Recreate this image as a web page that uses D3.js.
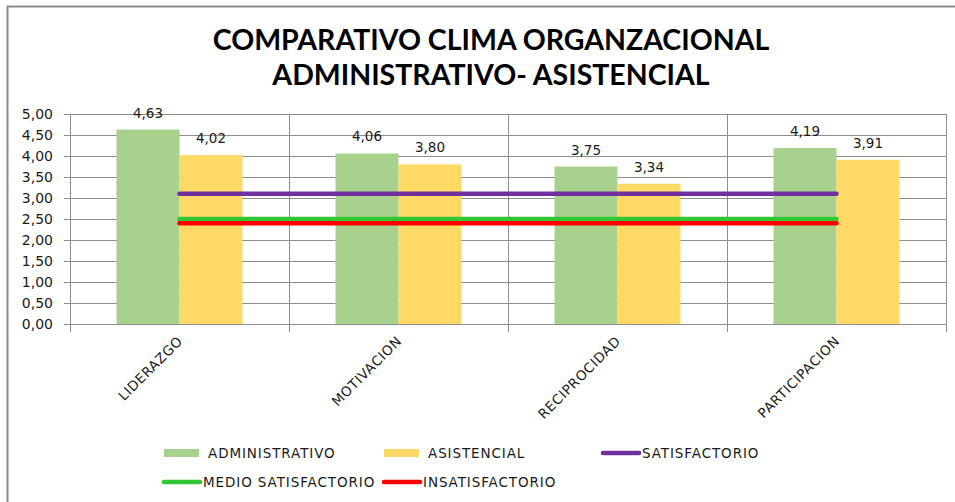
<!DOCTYPE html>
<meta charset="utf-8">
<script src="https://d3js.org/d3.v7.min.js"></script>
<style>
    body { margin: 0; padding: 0; background: #fff; }
    svg { display: block; }
    text { font-family: 'DejaVu Sans', Verdana, sans-serif; fill: #1a1a1a; }
</style>
<body>
<svg width="955" height="502"></svg>
<script>
    // datos del grafico
    var categorias = ["LIDERAZGO", "MOTIVACION", "RECIPROCIDAD", "PARTICIPACION"];
    var administrativo = [4.63, 4.06, 3.75, 4.19];
    var asistencial = [4.02, 3.80, 3.34, 3.91];
    var satisfactorio = [3.1, 3.1, 3.1, 3.1];
    var medioSatisfactorio = [2.5, 2.5, 2.5, 2.5];
    var insatisfactorio = [2.4, 2.4, 2.4, 2.4];
    var ticksY = [0, 0.5, 1, 1.5, 2, 2.5, 3, 3.5, 4, 4.5, 5];

    var series = [
        { name: "ADMINISTRATIVO", values: administrativo, color: "#a9d18e" },
        { name: "ASISTENCIAL", values: asistencial, color: "#ffd966" }
    ];
    var lineas = [
        { name: "SATISFACTORIO", values: satisfactorio, color: "#7030a0" },
        { name: "MEDIO SATISFACTORIO", values: medioSatisfactorio, color: "#33c633" },
        { name: "INSATISFACTORIO", values: insatisfactorio, color: "#ff0000" }
    ];

    var svg = d3.select("svg");
    var fmt = function (v) { return d3.format(".2f")(v).replace(".", ","); };

    // marco exterior
    svg.append("path")
        .attr("d", "M7.5,502 V6.5 H955")
        .attr("fill", "none")
        .attr("stroke", "#8c8c8c")
        .attr("stroke-width", 2);

    // titulo
    var titulo = svg.append("text")
        .attr("text-anchor", "middle")
        .style("font-family", "Lato, 'Open Sans', sans-serif")
        .style("font-weight", "bold")
        .style("font-size", "28.5px")
        .style("fill", "#000");
    titulo.append("tspan").attr("x", 491).attr("y", 50).text("COMPARATIVO CLIMA ORGANZACIONAL");
    titulo.append("tspan").attr("x", 491).attr("y", 85).text("ADMINISTRATIVO- ASISTENCIAL");

    var plotLeft = 70, plotRight = 946, plotTop = 114, plotBottom = 324;

    var x0 = d3.scaleBand().domain(categorias).range([plotLeft, plotRight]).padding(0);
    var barW = 63;
    var x1 = d3.scaleBand().domain(series.map(function (s) { return s.name; }))
        .range([0, x0.bandwidth()])
        .paddingInner(0)
        .paddingOuter((x0.bandwidth() / 2 - barW) / barW);
    var y = d3.scaleLinear().domain([0, 5]).range([plotBottom, plotTop]);

    // lineas de cuadricula horizontales
    svg.append("g")
        .selectAll("line")
        .data(ticksY)
        .join("line")
        .attr("x1", plotLeft - 6).attr("x2", plotRight)
        .attr("y1", function (d) { return y(d); })
        .attr("y2", function (d) { return y(d); })
        .attr("stroke", "#8e8e8e")
        .attr("stroke-width", 1)
        .attr("shape-rendering", "crispEdges");

    // separadores verticales de categorias
    var bordes = categorias.map(function (c) { return x0(c); }).concat([plotRight]);
    svg.append("g")
        .selectAll("line")
        .data(bordes)
        .join("line")
        .attr("x1", function (d) { return d; })
        .attr("x2", function (d) { return d; })
        .attr("y1", plotTop).attr("y2", plotBottom + 8)
        .attr("stroke", "#8e8e8e")
        .attr("stroke-width", 1)
        .attr("shape-rendering", "crispEdges");

    // etiquetas eje y
    svg.append("g")
        .selectAll("text")
        .data(ticksY)
        .join("text")
        .attr("x", 53)
        .attr("y", function (d) { return y(d) + 5; })
        .attr("text-anchor", "end")
        .style("font-size", "14px")
        .text(fmt);

    // barras
    var grupos = svg.append("g")
        .selectAll("g")
        .data(categorias)
        .join("g")
        .attr("transform", function (c) { return "translate(" + x0(c) + ",0)"; });

    grupos.selectAll("rect")
        .data(function (c, i) { return series.map(function (s) { return { s: s, v: s.values[i] }; }); })
        .join("rect")
        .attr("x", function (d) { return x1(d.s.name); })
        .attr("width", x1.bandwidth())
        .attr("y", function (d) { return y(d.v); })
        .attr("height", function (d) { return plotBottom - y(d.v); })
        .attr("fill", function (d) { return d.s.color; });

    grupos.selectAll("text")
        .data(function (c, i) { return series.map(function (s) { return { s: s, v: s.values[i] }; }); })
        .join("text")
        .attr("x", function (d) { return x1(d.s.name) + x1.bandwidth() / 2; })
        .attr("y", function (d) { return y(d.v) - 12; })
        .attr("text-anchor", "middle")
        .style("font-size", "13.5px")
        .text(function (d) { return fmt(d.v); });

    // eje x base
    svg.append("line")
        .attr("x1", plotLeft).attr("x2", plotRight)
        .attr("y1", plotBottom).attr("y2", plotBottom)
        .attr("stroke", "#8e8e8e")
        .attr("shape-rendering", "crispEdges");

    // lineas de referencia
    var linea = d3.line()
        .x(function (d, i) { return x0(categorias[i]) + x0.bandwidth() / 2; })
        .y(function (d) { return y(d); });
    svg.append("g")
        .selectAll("path")
        .data(lineas)
        .join("path")
        .attr("d", function (l) { return linea(l.values); })
        .attr("fill", "none")
        .attr("stroke", function (l) { return l.color; })
        .attr("stroke-width", 4.5)
        .attr("stroke-linecap", "round");

    // etiquetas categorias rotadas
    svg.append("g")
        .selectAll("text")
        .data(categorias)
        .join("text")
        .attr("transform", function (c) {
            return "translate(" + (x0(c) + x0.bandwidth() / 2 + 4) + "," + (plotBottom + 18) + ") rotate(-45)";
        })
        .attr("text-anchor", "end")
        .style("font-size", "13.5px")
        .style("letter-spacing", "0.6px")
        .text(function (c) { return c; });

    // leyenda
    var leyenda = [
        { name: "ADMINISTRATIVO", tipo: "rect", color: "#a9d18e", x: 164, y: 453 },
        { name: "ASISTENCIAL", tipo: "rect", color: "#ffd966", x: 384, y: 453 },
        { name: "SATISFACTORIO", tipo: "line", color: "#7030a0", x: 602, y: 453 },
        { name: "MEDIO SATISFACTORIO", tipo: "line", color: "#33c633", x: 163, y: 482 },
        { name: "INSATISFACTORIO", tipo: "line", color: "#ff0000", x: 383, y: 482 }
    ];
    var items = svg.append("g")
        .selectAll("g")
        .data(leyenda)
        .join("g")
        .attr("transform", function (d) { return "translate(" + d.x + "," + d.y + ")"; });
    items.filter(function (d) { return d.tipo == "rect"; })
        .append("rect")
        .attr("x", 0).attr("y", -4).attr("width", 35).attr("height", 8)
        .attr("fill", function (d) { return d.color; });
    items.filter(function (d) { return d.tipo == "line"; })
        .append("line")
        .attr("x1", 1).attr("x2", 37).attr("y1", 0).attr("y2", 0)
        .attr("stroke", function (d) { return d.color; })
        .attr("stroke-width", 4.5)
        .attr("stroke-linecap", "round");
    items.append("text")
        .attr("x", function (d) { return d.tipo == "rect" ? 44 : 40; })
        .attr("y", 5)
        .style("font-size", "13.5px")
        .style("letter-spacing", "0.9px")
        .text(function (d) { return d.name; });
</script>
</body>
